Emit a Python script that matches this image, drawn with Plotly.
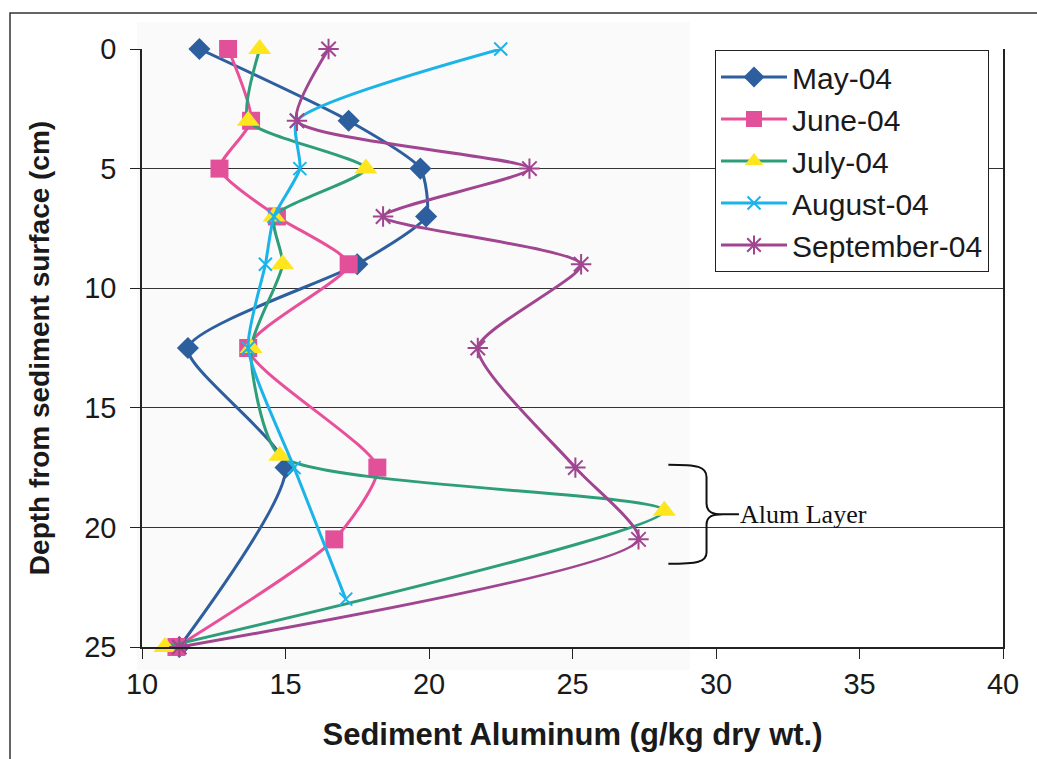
import plotly.graph_objects as go

# ---- data: sediment aluminum (g/kg dry wt.) by depth (cm) ----
may_depth = [0, 3, 5, 7, 9, 12.5, 17.5, 25]
may_al = [12.0, 17.2, 19.7, 19.9, 17.5, 11.6, 15.0, 11.3]

june_depth = [0, 3, 5, 7, 9, 12.5, 17.5, 20.5, 25]
june_al = [13.0, 13.8, 12.7, 14.7, 17.2, 13.7, 18.2, 16.7, 11.2]

july_depth = [0, 3, 5, 7, 9, 12.5, 17, 19.3, 25]
july_al = [14.1, 13.7, 17.8, 14.6, 14.9, 13.8, 14.8, 28.2, 10.8]

aug_depth = [0, 3, 5, 7, 9, 12.5, 17.5, 23]
aug_al = [22.5, 15.4, 15.5, 14.6, 14.3, 13.7, 15.3, 17.1]

sep_depth = [0, 3, 5, 7, 9, 12.5, 17.5, 20.5, 25]
sep_al = [16.5, 15.4, 23.5, 18.4, 25.3, 21.7, 25.1, 27.3, 11.3]

x_ticks = [10, 15, 20, 25, 30, 35, 40]
y_ticks = [0, 5, 10, 15, 20, 25]

# ---- page geometry ----
W, H = 1037, 759
ML, MR, MT, MB = 142, 34, 49, 112


def fx(px):
    """pixel column -> paper x"""
    return (px - ML) / (W - ML - MR)


def fy(py):
    """pixel row -> paper y"""
    return (H - MB - py) / (H - MT - MB)


FONT = "Liberation Sans, Arial, sans-serif"

series = [
    ("May-04", may_al, may_depth, "#2D5E9E", dict(symbol="diamond", size=17, color="#2D5E9E")),
    ("June-04", june_al, june_depth, "#E8509A", dict(symbol="square", size=18, color="#E2509A")),
    ("July-04", july_al, july_depth, "#2E9E7A", dict(symbol="triangle-up", size=20, color="#FFE51E")),
    ("August-04", aug_al, aug_depth, "#1CB4E8",
     dict(symbol="x-thin-open", size=13, color="#1CB4E8", line=dict(color="#1CB4E8", width=2))),
    ("September-04", sep_al, sep_depth, "#A0458F",
     dict(symbol="asterisk-open", size=17, color="#A0458F", line=dict(color="#A0458F", width=2))),
]

fig = go.Figure()
for name, xs, ys, lc, mk in series:
    fig.add_trace(go.Scatter(
        x=xs, y=ys, name=name, mode="lines+markers", cliponaxis=False,
        line=dict(color=lc, width=3, shape="spline", smoothing=0.6),
        marker=mk,
    ))

shapes = [
    # faint tint of the paper behind the left part of the plot
    dict(type="rect", xref="paper", yref="paper", layer="below",
         x0=fx(137), x1=fx(690), y0=fy(670), y1=fy(22),
         fillcolor="#fafafa", line=dict(width=0)),
    # outer chart frame (top and left edges)
    dict(type="path", xref="paper", yref="paper",
         path=f"M{fx(10)},{fy(760)} L{fx(10)},{fy(13)} L{fx(1040)},{fy(13)}",
         line=dict(color="#333333", width=1.5)),
    # curly brace marking the alum layer
    dict(type="path", xref="x", yref="y",
         path=("M28.34,17.38 C29.35,17.38 29.67,17.45 29.67,17.9 L29.67,19.0 "
               "C29.67,19.38 29.9,19.45 30.25,19.45 L30.8,19.45 "
               "M30.25,19.45 C29.9,19.45 29.67,19.52 29.67,19.9 L29.67,21.05 "
               "C29.67,21.45 29.35,21.52 28.34,21.52"),
         line=dict(color="#111111", width=2)),
]

fig.update_layout(
    width=W, height=H,
    margin=dict(l=ML, r=MR, t=MT, b=MB, pad=0),
    paper_bgcolor="white", plot_bgcolor="rgba(0,0,0,0)",
    font=dict(family=FONT, color="#1a1a1a"),
    showlegend=True,
    legend=dict(
        x=fx(715), y=fy(50), xanchor="left", yanchor="top",
        bgcolor="white", bordercolor="#222222", borderwidth=1,
        font=dict(family=FONT, size=30, color="#1a1a1a"),
        itemwidth=66, tracegroupgap=0,
    ),
    shapes=shapes,
    annotations=[dict(
        x=30.75, y=19.45, xref="x", yref="y", text="Alum Layer",
        showarrow=False, xanchor="left", yanchor="middle",
        font=dict(family="Liberation Serif, Times New Roman, serif", size=26, color="#111111"),
    )],
    xaxis=dict(
        range=[10, 40], tickvals=x_ticks, ticks="outside", ticklen=10, tickwidth=1,
        tickcolor="#222222", showgrid=False, zeroline=False,
        showline=True, linecolor="#222222", linewidth=1.5, mirror=False,
        tickfont=dict(family=FONT, size=29, color="#1a1a1a"),
        title=dict(text="<b>Sediment Aluminum (g/kg dry wt.)</b>",
                   font=dict(family=FONT, size=31, color="#1a1a1a"), standoff=25),
    ),
    yaxis=dict(
        range=[25, 0], tickvals=y_ticks, ticks="outside", ticklen=10, tickwidth=1,
        tickcolor="#222222", showgrid=True, gridcolor="#333333", gridwidth=1,
        zeroline=False, showline=True, linecolor="#222222", linewidth=1.5, mirror=True,
        tickfont=dict(family=FONT, size=29, color="#1a1a1a"),
        ticklabelstandoff=8,
        title=dict(text="<b>Depth from sediment surface (cm)</b>",
                   font=dict(family=FONT, size=28, color="#1a1a1a"), standoff=26),
    ),
)

fig.write_html("out.html")
